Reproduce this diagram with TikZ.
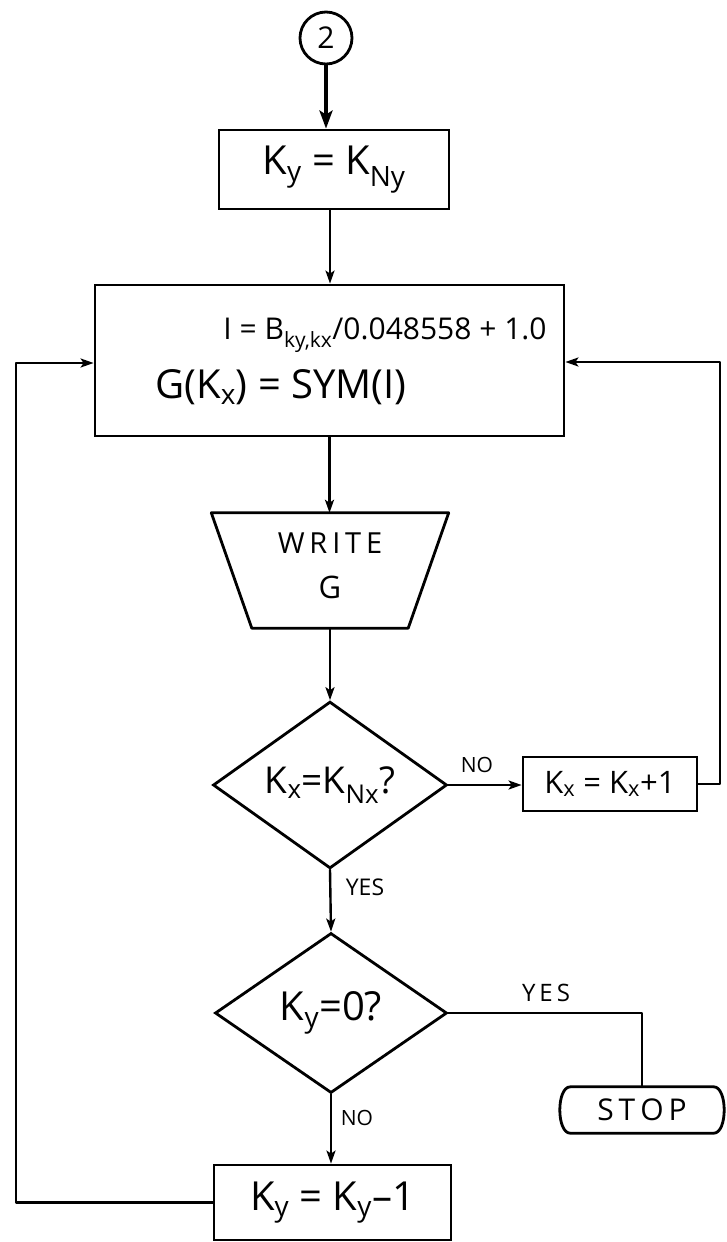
\documentclass[tikz,border=0pt]{standalone}
\usepackage{fontspec}
\setmainfont{Open Sans}
\usetikzlibrary{shapes.geometric,arrows.meta,calc}
\newcommand\setfs[1]{\fontsize{#1}{#1}\selectfont}
\newcommand\sbs[1]{\textsubscript{#1}}
\begin{document}
\begin{tikzpicture}[x=1pt,y=-1pt,
  ln/.style={line width=2.4pt, line cap=round, line join=round},
  arr/.style={ln, -{Stealth[length=13pt,width=9pt,inset=3pt]}},
  procbox/.style={draw, line width=2.8pt, rectangle, inner sep=0pt},
  dec/.style={draw, line width=2.8pt, diamond, inner sep=0pt, minimum width=234pt, minimum height=160pt},
  lbl/.style={inner sep=0pt, font=\setfs{21}},
  txt/.style={inner sep=0pt}]
\fill[white] (0,0) rectangle (726,1242);
\useasboundingbox (0,0) rectangle (726,1242);

% nodes
\node[circle, draw, line width=2.8pt, minimum size=52pt, inner sep=0pt, font=\setfs{30}] (c2) at (326,38) {2};
\node[procbox, minimum width=230pt, minimum height=79pt, font=\setfs{40}] (b1) at (334,169.5) {K\sbs{y} = K\sbs{Ny}};
\node[procbox, minimum width=469pt, minimum height=151pt] (big) at (329.5,360.5) {};
\node[txt, font=\setfs{30}] (t1) at (385,335) {I = B\sbs{ky,kx}/0.048558 + 1.0};
\node[txt, font=\setfs{40}] (t2) at (281,387) {G(K\sbs{x}) = SYM(I)};

\node[minimum width=237pt, minimum height=115pt, inner sep=0pt] (wr) at (330,570.5) {};
\draw[ln, line width=2.8pt] (wr.north west) -- (wr.north east) -- ([xshift=-40.5pt]wr.south east) -- ([xshift=40.5pt]wr.south west) -- cycle;
\node[txt, font=\setfs{29}] (wt) at (330,543) {W\,R\,I\,T\,E};
\node[txt, font=\setfs{31}] (wg) at (330,587) {G};

\node[dec, font=\setfs{37}] (d1) at (330,785) {K\sbs{x}=K\sbs{Nx}?};
\node[procbox, minimum width=174pt, minimum height=54pt, font=\setfs{31}] (kx) at (610,784) {K\sbs{x} = K\sbs{x}+1};
\node[dec, minimum width=232pt, font=\setfs{40}] (d2) at (331,1013) {K\sbs{y}=0?};

\node[minimum width=171pt, minimum height=46pt, inner sep=0pt, font=\setfs{30}] (stop) at (642,1110) {S\,T\,O\,P};
\draw[ln, line width=2.8pt] ([xshift=14pt]stop.north west) -- ([xshift=-14pt]stop.north east)
  .. controls (stop.north east) and (stop.south east) .. ([xshift=-14pt]stop.south east)
  -- ([xshift=14pt]stop.south west)
  .. controls (stop.south west) and (stop.north west) .. ([xshift=14pt]stop.north west);

\node[procbox, minimum width=237pt, minimum height=75pt, font=\setfs{40}] (ky1) at (332.5,1202.5) {K\sbs{y} = K\sbs{y}\textendash1};

% connectors
\draw[ln, line width=4.5pt, -{Stealth[length=18pt,width=13pt,inset=4pt]}] (c2.south) -- (c2.south |- b1.north);
\draw[arr] ([xshift=-4pt]b1.south) -- ([xshift=-4pt]b1.south |- big.north);
\draw[arr] (big.south) -- (big.south |- wr.north);
\draw[arr] (wr.south) -- (d1.north);
\draw[arr] (d1.east) -- (d1.east -| kx.west);
\coordinate (rt) at (720,362);
\draw[arr] (kx.east) -| (rt) -- (rt -| big.east);
\draw[arr] (d1.south) -- (d2.north);
\draw[ln] (d2.east) -| (stop.north);
\draw[arr] (d2.south) -- (d2.south |- ky1.north);
\coordinate (lt) at (16,363);
\draw[arr] (ky1.west) -| (lt) -- (lt -| big.west);

% labels
\node[lbl] (lno1) at (477,765) {NO};
\node[lbl, font=\setfs{23}] (lyes1) at (365,887) {YES};
\node[lbl] (lno2) at (357,1118) {NO};
\node[lbl, font=\setfs{24}] (lyes2) at (546,993) {Y\,E\,S};
\end{tikzpicture}
\end{document}
